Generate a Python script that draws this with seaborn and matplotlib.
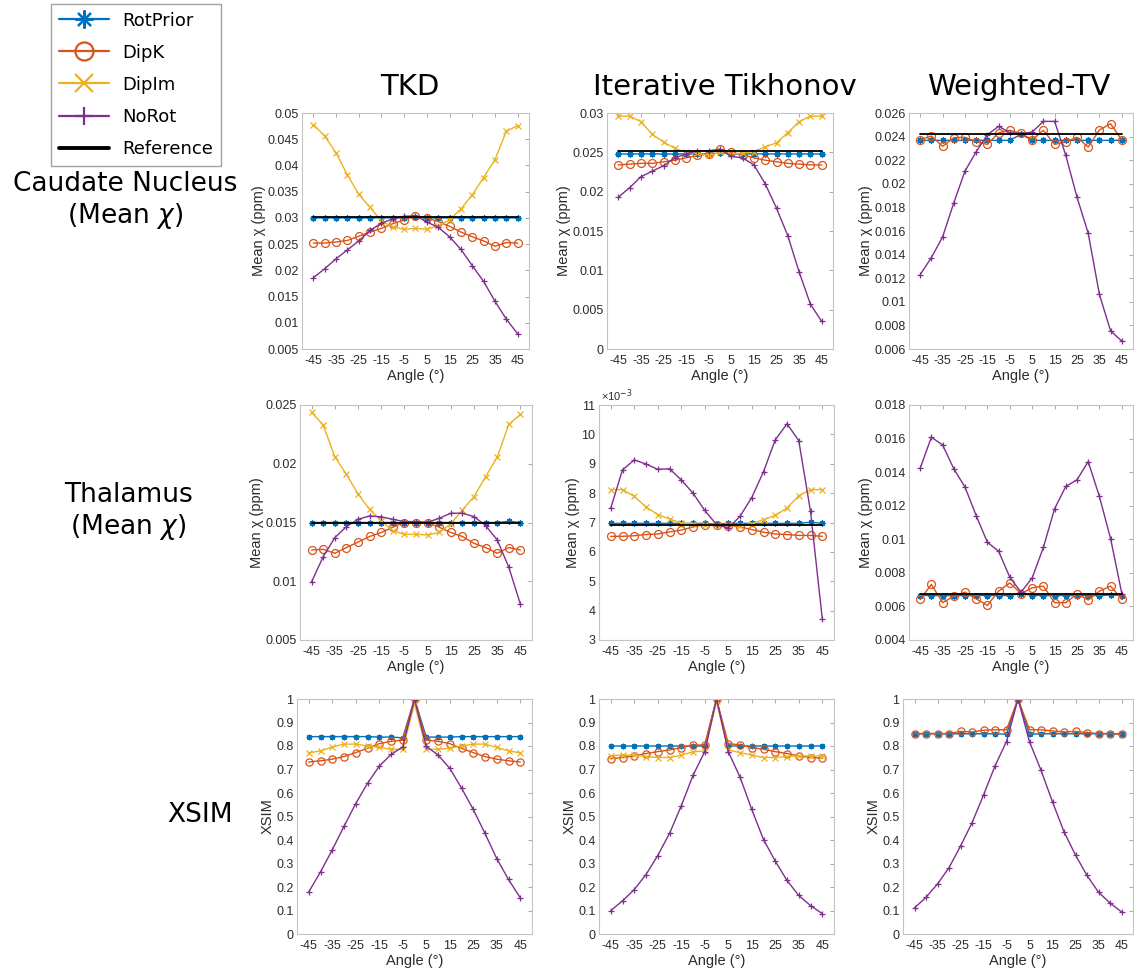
import matplotlib
matplotlib.use("Agg")
import matplotlib.pyplot as plt
import seaborn as sns
from matplotlib.lines import Line2D
from matplotlib.ticker import MultipleLocator, FuncFormatter

# Rotation angles of the head (degrees)
ANGLES = [-45, -40, -35, -30, -25, -20, -15, -10, -5, 0, 5, 10, 15, 20, 25, 30, 35, 40, 45]
XTICKS = [-45, -35, -25, -15, -5, 5, 15, 25, 35, 45]

METHODS = ["RotPrior", "DipK", "DipIm", "NoRot"]
COLUMNS = ["TKD", "Iterative Tikhonov", "Weighted-TV"]

# ---- Caudate nucleus, mean susceptibility (ppm) ----
cn_tkd_rotprior = [0.0300, 0.0300, 0.0300, 0.0300, 0.0300, 0.0300, 0.0300, 0.0300, 0.0300, 0.0301,
                   0.0300, 0.0300, 0.0300, 0.0300, 0.0300, 0.0300, 0.0300, 0.0300, 0.0300]
cn_tkd_dipk = [0.0252, 0.0252, 0.0254, 0.0257, 0.0265, 0.0273, 0.0280, 0.0289, 0.0296, 0.0304,
               0.0300, 0.0293, 0.0284, 0.0273, 0.0264, 0.0256, 0.0246, 0.0253, 0.0252]
cn_tkd_dipim = [0.0478, 0.0456, 0.0424, 0.0382, 0.0345, 0.0320, 0.0294, 0.0283, 0.0278, 0.0280,
                0.0278, 0.0285, 0.0296, 0.0317, 0.0344, 0.0377, 0.0411, 0.0465, 0.0476]
cn_tkd_norot = [0.0186, 0.0203, 0.0222, 0.0239, 0.0256, 0.0276, 0.0290, 0.0298, 0.0303, 0.0304,
                0.0292, 0.0282, 0.0264, 0.0240, 0.0209, 0.0179, 0.0141, 0.0107, 0.0079]
cn_tkd_ref = 0.0302

cn_tik_rotprior = [0.0248, 0.0248, 0.0248, 0.0248, 0.0248, 0.0248, 0.0248, 0.0248, 0.0248, 0.0249,
                   0.0248, 0.0248, 0.0248, 0.0248, 0.0248, 0.0248, 0.0248, 0.0248, 0.0248]
cn_tik_dipk = [0.0234, 0.0235, 0.0236, 0.0236, 0.0238, 0.0240, 0.0243, 0.0246, 0.0248, 0.0254,
               0.0250, 0.0247, 0.0243, 0.0240, 0.0238, 0.0236, 0.0235, 0.0234, 0.0234]
cn_tik_dipim = [0.0296, 0.0296, 0.0289, 0.0273, 0.0263, 0.0255, 0.0250, 0.0249, 0.0246, 0.0250,
                0.0248, 0.0249, 0.0251, 0.0257, 0.0262, 0.0275, 0.0289, 0.0296, 0.0296]
cn_tik_norot = [0.0193, 0.0205, 0.0219, 0.0226, 0.0233, 0.0243, 0.0248, 0.0252, 0.0252, 0.0254,
                0.0245, 0.0243, 0.0234, 0.0210, 0.0179, 0.0144, 0.0098, 0.0057, 0.0035]
cn_tik_ref = 0.0252

cn_wtv_rotprior = [0.02368, 0.02368, 0.02368, 0.02368, 0.02368, 0.02368, 0.02368, 0.02368, 0.02368, 0.02420,
                   0.02368, 0.02368, 0.02368, 0.02368, 0.02368, 0.02368, 0.02368, 0.02368, 0.02368]
cn_wtv_dipk = [0.02374, 0.02405, 0.02317, 0.02391, 0.02394, 0.02357, 0.02334, 0.02433, 0.02453, 0.02427,
               0.02374, 0.02453, 0.02334, 0.02357, 0.02394, 0.02311, 0.02456, 0.02509, 0.02371]
cn_wtv_norot = [0.01231, 0.01375, 0.01550, 0.01839, 0.02108, 0.02272, 0.02416, 0.02487, 0.02433, 0.02425,
                0.02439, 0.02529, 0.02529, 0.02241, 0.01887, 0.01581, 0.01063, 0.00753, 0.00668]
cn_wtv_ref = 0.02422

# ---- Thalamus, mean susceptibility (ppm) ----
th_tkd_rotprior = [0.0150, 0.0150, 0.0150, 0.0150, 0.0150, 0.0150, 0.0150, 0.0150, 0.0150, 0.0150,
                   0.0150, 0.0150, 0.0150, 0.0150, 0.0150, 0.0150, 0.0150, 0.0151, 0.0150]
th_tkd_dipk = [0.01266, 0.01272, 0.01238, 0.01287, 0.01333, 0.01381, 0.01415, 0.01460, 0.01500, 0.01500,
               0.01500, 0.01460, 0.01415, 0.01381, 0.01323, 0.01287, 0.01238, 0.01287, 0.01266]
th_tkd_dipim = [0.02438, 0.02330, 0.02060, 0.01910, 0.01743, 0.01612, 0.01513, 0.01430, 0.01399, 0.01399,
                0.01394, 0.01415, 0.01488, 0.01607, 0.01720, 0.01890, 0.02055, 0.02335, 0.02420]
th_tkd_norot = [0.00996, 0.01209, 0.01371, 0.01465, 0.01527, 0.01556, 0.01548, 0.01527, 0.01508, 0.01508,
                0.01502, 0.01536, 0.01579, 0.01579, 0.01550, 0.01474, 0.01352, 0.01120, 0.00804]
th_tkd_ref = 0.0150

th_tik_rotprior = [0.00697, 0.00697, 0.00697, 0.00697, 0.00697, 0.00697, 0.00697, 0.00697, 0.00697, 0.00694,
                   0.00697, 0.00697, 0.00697, 0.00697, 0.00697, 0.00697, 0.00697, 0.00701, 0.00697]
th_tik_dipk = [0.00653, 0.00653, 0.00655, 0.00659, 0.00661, 0.00668, 0.00674, 0.00685, 0.00693, 0.00693,
               0.00689, 0.00685, 0.00676, 0.00667, 0.00661, 0.00659, 0.00656, 0.00656, 0.00653]
th_tik_dipim = [0.00812, 0.00812, 0.00789, 0.00753, 0.00727, 0.00712, 0.00698, 0.00695, 0.00692, 0.00688,
                0.00688, 0.00689, 0.00696, 0.00710, 0.00724, 0.00749, 0.00791, 0.00812, 0.00812]
th_tik_norot = [0.00749, 0.00879, 0.00913, 0.00899, 0.00881, 0.00883, 0.00845, 0.00800, 0.00741, 0.00693,
                0.00681, 0.00721, 0.00785, 0.00873, 0.00981, 0.01036, 0.00979, 0.00738, 0.00373]
th_tik_ref = 0.00693

th_wtv_rotprior = [0.00665, 0.00665, 0.00665, 0.00665, 0.00665, 0.00665, 0.00665, 0.00665, 0.00665, 0.00677,
                   0.00665, 0.00665, 0.00665, 0.00665, 0.00665, 0.00665, 0.00665, 0.00668, 0.00665]
th_wtv_dipk = [0.00642, 0.00731, 0.00622, 0.00661, 0.00685, 0.00645, 0.00606, 0.00691, 0.00740, 0.00677,
               0.00711, 0.00721, 0.00622, 0.00622, 0.00675, 0.00638, 0.00691, 0.00721, 0.00642]
th_wtv_norot = [0.01424, 0.01608, 0.01562, 0.01420, 0.01311, 0.01141, 0.00982, 0.00929, 0.00774, 0.00685,
                0.00770, 0.00952, 0.01182, 0.01315, 0.01354, 0.01463, 0.01255, 0.01004, 0.00677]
th_wtv_ref = 0.00677

# ---- XSIM ----
xs_tkd_rotprior = [0.840, 0.840, 0.840, 0.840, 0.840, 0.840, 0.838, 0.838, 0.835, 1.000,
                   0.838, 0.838, 0.838, 0.840, 0.840, 0.840, 0.840, 0.840, 0.840]
xs_tkd_dipk = [0.732, 0.737, 0.744, 0.755, 0.772, 0.790, 0.810, 0.820, 0.825, 1.000,
               0.825, 0.820, 0.810, 0.790, 0.772, 0.755, 0.744, 0.737, 0.732]
xs_tkd_dipim = [0.771, 0.779, 0.796, 0.808, 0.808, 0.800, 0.794, 0.786, 0.786, 0.980,
                0.786, 0.786, 0.790, 0.800, 0.808, 0.808, 0.794, 0.779, 0.771]
xs_tkd_norot = [0.179, 0.264, 0.358, 0.458, 0.555, 0.641, 0.714, 0.764, 0.796, 1.000,
                0.798, 0.762, 0.705, 0.621, 0.530, 0.428, 0.321, 0.232, 0.154]

xs_tik_rotprior = [0.800, 0.800, 0.800, 0.800, 0.800, 0.800, 0.800, 0.800, 0.800, 1.000,
                   0.800, 0.800, 0.800, 0.800, 0.800, 0.800, 0.800, 0.800, 0.800]
xs_tik_dipk = [0.746, 0.751, 0.758, 0.768, 0.776, 0.783, 0.793, 0.803, 0.805, 1.000,
               0.810, 0.805, 0.793, 0.786, 0.776, 0.768, 0.758, 0.751, 0.748]
xs_tik_dipim = [0.758, 0.762, 0.761, 0.755, 0.751, 0.751, 0.761, 0.775, 0.779, 0.990,
                0.783, 0.772, 0.761, 0.751, 0.751, 0.755, 0.758, 0.758, 0.758]
xs_tik_norot = [0.0995, 0.141, 0.189, 0.253, 0.334, 0.428, 0.545, 0.675, 0.776, 1.000,
                0.776, 0.668, 0.530, 0.402, 0.310, 0.228, 0.164, 0.121, 0.087]

xs_wtv_rotprior = [0.852, 0.852, 0.852, 0.852, 0.852, 0.852, 0.852, 0.852, 0.850, 1.000,
                   0.850, 0.852, 0.852, 0.852, 0.852, 0.852, 0.852, 0.852, 0.852]
xs_wtv_dipk = [0.853, 0.853, 0.853, 0.853, 0.862, 0.860, 0.867, 0.869, 0.869, 1.000,
               0.869, 0.869, 0.864, 0.860, 0.862, 0.857, 0.853, 0.853, 0.850]
xs_wtv_norot = [0.111, 0.156, 0.213, 0.282, 0.374, 0.473, 0.591, 0.715, 0.819, 1.000,
                0.818, 0.697, 0.562, 0.435, 0.336, 0.249, 0.178, 0.132, 0.094]

# Axis ranges per row / column: (ymin, ymax, tick step)
YRANGES = [
    [(0.005, 0.05, 0.005), (0.0, 0.03, 0.005), (0.006, 0.026, 0.002)],
    [(0.005, 0.025, 0.005), (0.003, 0.011, 0.001), (0.004, 0.018, 0.002)],
    [(0.0, 1.0, 0.1), (0.0, 1.0, 0.1), (0.0, 1.0, 0.1)],
]

PANELS = [
    [
        ({"RotPrior": cn_tkd_rotprior, "DipK": cn_tkd_dipk, "DipIm": cn_tkd_dipim, "NoRot": cn_tkd_norot}, cn_tkd_ref),
        ({"RotPrior": cn_tik_rotprior, "DipK": cn_tik_dipk, "DipIm": cn_tik_dipim, "NoRot": cn_tik_norot}, cn_tik_ref),
        ({"RotPrior": cn_wtv_rotprior, "DipK": cn_wtv_dipk, "NoRot": cn_wtv_norot}, cn_wtv_ref),
    ],
    [
        ({"RotPrior": th_tkd_rotprior, "DipK": th_tkd_dipk, "DipIm": th_tkd_dipim, "NoRot": th_tkd_norot}, th_tkd_ref),
        ({"RotPrior": th_tik_rotprior, "DipK": th_tik_dipk, "DipIm": th_tik_dipim, "NoRot": th_tik_norot}, th_tik_ref),
        ({"RotPrior": th_wtv_rotprior, "DipK": th_wtv_dipk, "NoRot": th_wtv_norot}, th_wtv_ref),
    ],
    [
        ({"RotPrior": xs_tkd_rotprior, "DipK": xs_tkd_dipk, "DipIm": xs_tkd_dipim, "NoRot": xs_tkd_norot}, None),
        ({"RotPrior": xs_tik_rotprior, "DipK": xs_tik_dipk, "DipIm": xs_tik_dipim, "NoRot": xs_tik_norot}, None),
        ({"RotPrior": xs_wtv_rotprior, "DipK": xs_wtv_dipk, "NoRot": xs_wtv_norot}, None),
    ],
]

ROW_YLABELS = ["Mean χ (ppm)", "Mean χ (ppm)", "XSIM"]

COLORS = {"RotPrior": "#0072BD", "DipK": "#D95319", "DipIm": "#EDB120", "NoRot": "#7E2F8E"}
MARKERS = {"RotPrior": (8, 2, 0), "DipK": "o", "DipIm": "x", "NoRot": "+"}

sns.set_style("white")
plt.rcParams["font.family"] = ["DejaVu Sans"]
plt.rcParams["text.color"] = "black"

W, H = 1134, 972
fig = plt.figure(figsize=(W / 100, H / 100), dpi=100)

# axes boxes in pixels: (left, right) per row/col, (top, bottom) per row
XPIX = [
    [(302, 529), (607, 833), (909, 1133)],
    [(300, 532), (599, 834), (909, 1133)],
    [(297, 532), (599, 834), (903, 1133)],
]
YPIX = [(113, 349), (405, 640), (699, 934)]

TICK_FONT = "Liberation Sans"
SPINE = "#c4c4c4"
INK = "#2b2b2b"

def fmt_g(scale=1.0):
    return FuncFormatter(lambda v, p: "%g" % round(v * scale, 6))

for r in range(3):
    for c in range(3):
        (l, rr), (t, b) = XPIX[r][c], YPIX[r]
        ax = fig.add_axes([l / W, 1 - b / H, (rr - l) / W, (b - t) / H])
        series, ref = PANELS[r][c]
        ms = 4.5 if r < 2 else 4.0
        for name in METHODS:
            if name not in series:
                continue
            col = COLORS[name]
            kw = dict(color=col, lw=1.0, marker=MARKERS[name], markersize=ms,
                      mec=col, mew=0.9)
            if name == "DipK":
                kw["mfc"] = "none"
                kw["markersize"] = ms + 1.2
            sns.lineplot(x=ANGLES, y=series[name], ax=ax, **kw)
        if ref is not None:
            sns.lineplot(x=[ANGLES[0], ANGLES[-1]], y=[ref, ref], ax=ax, color="black", lw=1.3)

        ymin, ymax, step = YRANGES[r][c]
        ax.set_xlim(-50, 50)
        ax.set_ylim(ymin, ymax)
        ax.set_xticks(XTICKS)
        ax.xaxis.set_major_formatter(fmt_g())
        ax.yaxis.set_major_locator(MultipleLocator(step))
        if r == 1 and c == 1:
            ax.yaxis.set_major_formatter(fmt_g(1e3))
            ax.text(0.01, 1.005, "×10$^{-3}$", transform=ax.transAxes, ha="left", va="bottom",
                    fontsize=8, color=INK, family=TICK_FONT)
        else:
            ax.yaxis.set_major_formatter(fmt_g())
        ax.tick_params(direction="in", top=True, right=True, length=3, width=0.6,
                       color="#9a9a9a", labelcolor=INK, labelsize=9, pad=2.5)
        ax.tick_params(axis="x", pad=4)
        for lab in ax.get_xticklabels() + ax.get_yticklabels():
            lab.set_family(TICK_FONT)
        for sp in ax.spines.values():
            sp.set_color(SPINE)
            sp.set_linewidth(0.8)
        ax.set_xlabel("Angle (°)", fontsize=10.5, family=TICK_FONT, color=INK, labelpad=2)
        ax.set_ylabel(ROW_YLABELS[r], fontsize=10.5, family=TICK_FONT, color=INK, labelpad=1)

# column titles
for x, title in zip([410, 725, 1019], COLUMNS):
    fig.text(x / W, 1 - 87 / H, title, ha="center", va="center", fontsize=21, color="black")

# row labels
fig.text(125 / W, 1 - 201 / H, "Caudate Nucleus\n(Mean $\\chi$)", ha="center", va="center",
         multialignment="center", fontsize=19, linespacing=1.15, color="black")
fig.text(128 / W, 1 - 512 / H, "Thalamus\n(Mean $\\chi$)", ha="center", va="center",
         multialignment="center", fontsize=19, linespacing=1.15, color="black")
fig.text(200 / W, 1 - 815 / H, "XSIM", ha="center", va="center", fontsize=19, color="black")

# legend
handles = []
for name in METHODS:
    col = COLORS[name]
    kw = dict(color=col, lw=1.6, marker=MARKERS[name], markersize=13, mec=col, mew=1.6)
    if name == "DipK":
        kw["mfc"] = "none"
    handles.append(Line2D([], [], **kw))
handles.append(Line2D([], [], color="black", lw=2.8))
leg = fig.legend(handles, METHODS + ["Reference"], loc="upper left",
                 bbox_to_anchor=(51 / W, 1 - 4 / H), borderaxespad=0, frameon=True,
                 fancybox=False, edgecolor="#8c8c8c", fontsize=13, handlelength=2.8,
                 handletextpad=0.75, labelspacing=0.78, borderpad=0.42)
leg.get_frame().set_linewidth(1.0)
for txt in leg.get_texts():
    txt.set_color("black")

fig.savefig("out.png", dpi=100)
